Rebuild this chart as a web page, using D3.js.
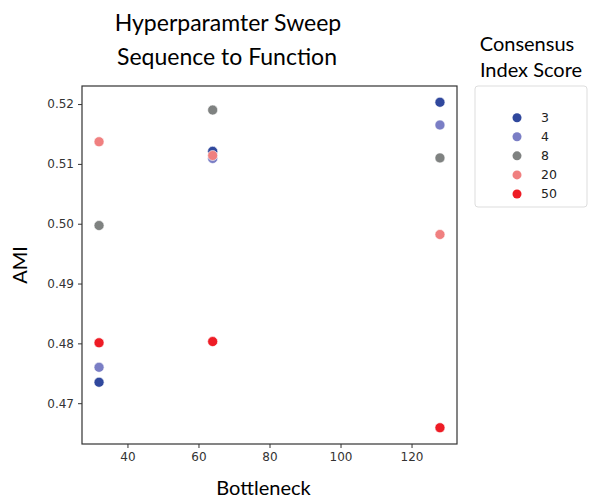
<!DOCTYPE html>
<html>
<head>
<meta charset="utf-8">
<script src="https://cdn.jsdelivr.net/npm/d3@7"></script>
<style>
  body { margin: 0; background: #fff; }
  .tick text { font-family: "DejaVu Sans", sans-serif; font-size: 12px; fill: #333; }
  .big { font-family: Lato, "Open Sans", sans-serif; fill: #000; }
</style>
</head>
<body>
<div id="chart"></div>
<script>
// Bottleneck sizes and AMI per consensus index score
var bottleneck = [32, 64, 128];
var scores = ['3', '4', '8', '20', '50'];
var colors = ['#30489d', '#7a7ec5', '#7f8281', '#f08080', '#ee1c25'];
var ami3 = [0.4735, 0.5121, 0.5203];
var ami4 = [0.4760, 0.5109, 0.5165];
var ami8 = [0.4997, 0.5190, 0.5110];
var ami20 = [0.5137, 0.5114, 0.4982];
var ami50 = [0.4801, 0.4803, 0.4659];
var xTicks = [40, 60, 80, 100, 120];
var yTicks = [0.47, 0.48, 0.49, 0.50, 0.51, 0.52];

var series = [ami3, ami4, ami8, ami20, ami50];
var points = [];
series.forEach(function (vals, s) {
  vals.forEach(function (v, i) {
    points.push({ x: bottleneck[i], y: v, s: s });
  });
});

var chart_width = 596;
var chart_height = 499;
var plot = { left: 82, top: 86, right: 457, bottom: 444 };

var svg = d3.select('#chart')
  .append('svg')
  .attr('width', chart_width)
  .attr('height', chart_height);

// matplotlib style 5% padding
var xExt = d3.extent(bottleneck);
var xPad = (xExt[1] - xExt[0]) * 0.05;
var allY = d3.merge(series);
var yExt = d3.extent(allY);
var yPad = (yExt[1] - yExt[0]) * 0.05;

var xScale = d3.scaleLinear()
  .domain([xExt[0] - xPad, xExt[1] + xPad])
  .range([plot.left, plot.right]);
var yScale = d3.scaleLinear()
  .domain([yExt[0] - yPad, yExt[1] + yPad])
  .range([plot.bottom, plot.top]);

// Axes
var xAxis = svg.append('g')
  .attr('transform', 'translate(0,' + plot.bottom + ')')
  .call(d3.axisBottom(xScale).tickValues(xTicks).tickSize(4).tickPadding(4));
var yAxis = svg.append('g')
  .attr('transform', 'translate(' + plot.left + ',0)')
  .call(d3.axisLeft(yScale).tickValues(yTicks).tickFormat(d3.format('.2f')).tickSize(4).tickPadding(4));
[xAxis, yAxis].forEach(function (a) {
  a.select('.domain').remove();
  a.selectAll('.tick line').attr('stroke', '#333');
});

// Frame
svg.append('rect')
  .attr('x', plot.left)
  .attr('y', plot.top)
  .attr('width', plot.right - plot.left)
  .attr('height', plot.bottom - plot.top)
  .attr('fill', 'none')
  .attr('stroke', '#333')
  .attr('stroke-width', 1.2);

// Points
svg.append('g')
  .selectAll('circle')
  .data(points)
  .enter()
  .append('circle')
  .attr('cx', d => xScale(d.x))
  .attr('cy', d => yScale(d.y))
  .attr('r', 5)
  .attr('fill', d => colors[d.s])
  .attr('stroke', '#fff')
  .attr('stroke-width', 0.6);

// Titles
svg.append('text').attr('class', 'big')
  .attr('x', 228).attr('y', 31)
  .attr('text-anchor', 'middle')
  .attr('font-size', 23)
  .text('Hyperparamter Sweep');
svg.append('text').attr('class', 'big')
  .attr('x', 227).attr('y', 65)
  .attr('text-anchor', 'middle')
  .attr('font-size', 23)
  .text('Sequence to Function');

svg.append('text').attr('class', 'big')
  .attr('x', (plot.left + plot.right) / 2 - 6).attr('y', 495)
  .attr('text-anchor', 'middle')
  .attr('font-size', 20)
  .text('Bottleneck');
svg.append('text').attr('class', 'big')
  .attr('transform', 'translate(27,' + (plot.top + plot.bottom) / 2 + ') rotate(-90)')
  .attr('text-anchor', 'middle')
  .attr('font-size', 20)
  .text('AMI');

// Legend
svg.append('text').attr('class', 'big')
  .attr('x', 527).attr('y', 51)
  .attr('text-anchor', 'middle')
  .attr('font-size', 20)
  .text('Consensus');
svg.append('text').attr('class', 'big')
  .attr('x', 531).attr('y', 77)
  .attr('text-anchor', 'middle')
  .attr('font-size', 20)
  .text('Index Score');

svg.append('rect')
  .attr('x', 475).attr('y', 86)
  .attr('width', 112).attr('height', 121)
  .attr('rx', 3)
  .attr('fill', '#fff')
  .attr('stroke', '#ddd');

var legY = d3.scalePoint().domain(scores).range([117.7, 194]);
var leg = svg.append('g')
  .selectAll('g')
  .data(scores)
  .enter()
  .append('g')
  .attr('transform', d => 'translate(0,' + legY(d) + ')');
leg.append('circle')
  .attr('cx', 517)
  .attr('r', 4.5)
  .attr('fill', (d, i) => colors[i]);
leg.append('text')
  .attr('x', 541)
  .attr('dy', '0.35em')
  .attr('font-family', 'DejaVu Sans, sans-serif')
  .attr('font-size', 12.5)
  .attr('fill', '#222')
  .text(d => d);
</script>
</body>
</html>
